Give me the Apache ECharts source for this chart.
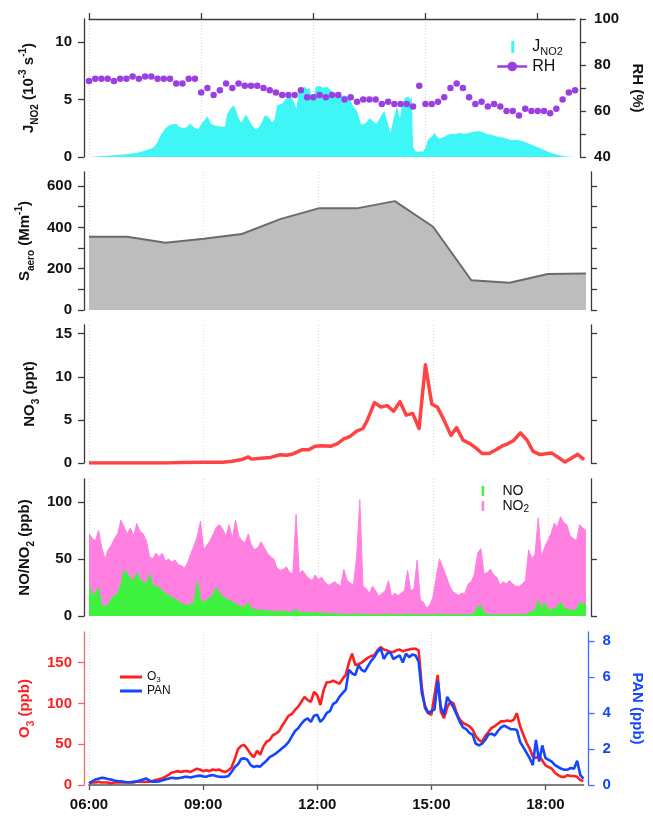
<!DOCTYPE html>
<html><head><meta charset="utf-8">
<script src="https://cdn.jsdelivr.net/npm/echarts@6/dist/echarts.min.js"></script>
<style>html,body{margin:0;padding:0;background:#fff}#c{width:653px;height:816px}</style>
</head><body><div id="c"></div>
<script>
const FONT = '"Liberation Sans", Arial, Helvetica, sans-serif';

// ---------- Panel 1: J_NO2 (irregular time, 10^-3 s^-1) ----------
const jno2Time = ['06:00','06:30','07:00','07:20','07:40','07:45','07:50','07:56','08:03','08:10','08:20','08:25','08:32','08:37','08:42','08:48','08:55',
 '09:00','09:05','09:10','09:16','09:22','09:30','09:38','09:41','09:47','09:52','09:56','10:00','10:04','10:08','10:12','10:16','10:20','10:27','10:33','10:38','10:42','10:48','10:54','10:58',
 '11:02','11:10','11:15','11:23','11:28','11:33','11:37','11:42','11:46','11:50','11:54','11:59','12:04','12:10','12:16','12:22','12:28','12:33','12:38','12:43','12:48','12:54','13:00',
 '13:04','13:10','13:17','13:22','13:27','13:30','13:34','13:41','13:46','13:50','13:54','13:58','14:04','14:09','14:14','14:19','14:23','14:28','14:33','14:36','14:38',
 '14:40','14:44','14:48','14:52','14:56','15:00','15:04','15:08','15:12','15:15','15:18','15:22','15:28','15:34','15:40','15:48','15:55','16:02','16:10','16:18','16:25','16:30','16:38','16:45','16:52',
 '17:00','17:10','17:18','17:25','17:35','17:45','17:55','18:05','18:15','18:25','18:35','18:45','19:00'];
const jno2Val = [0,0.1,0.25,0.4,0.75,0.9,1.3,2.0,2.5,2.8,2.9,2.6,2.5,2.6,2.9,2.6,2.4,
 2.85,3.2,3.55,2.9,2.75,2.65,2.6,3.6,4.2,4.5,4.05,3.4,3.0,3.3,3.7,3.3,2.9,2.4,2.6,3.1,3.6,3.5,3.0,3.3,
 4.5,4.65,5.0,5.3,4.9,4.2,6.05,6.0,6.1,5.9,6.0,4.9,6.1,6.2,6.0,6.1,5.8,5.6,5.5,5.3,5.35,5.3,4.9,
 4.4,4.0,2.8,2.9,3.1,3.4,3.2,2.9,3.3,3.7,4.0,3.2,2.1,3.4,4.4,3.4,4.7,5.2,5.25,5.0,5.3,
 0.9,0.5,0.45,0.5,0.45,0.8,1.5,1.7,1.9,2.1,1.8,1.6,1.7,1.9,2.0,2.0,2.1,2.0,2.1,2.2,2.25,2.2,2.0,1.95,1.8,
 1.75,1.6,1.45,1.5,1.4,1.2,0.95,0.75,0.5,0.3,0.15,0.05,0];

// RH (%) every 10 min from 06:00
const rhStart = '06:00';
const rhVal = [73,74,74,74,73,74,74,75,74,75,75,74,74,74,72,72,74,74,
 68,70,67,69,72,70,72,71,71,71,70,69,68,67,67,67,69,66,66,67,66,
 67,67,65,66,64,65,65,65,63,64,63,63,63,62,71,63,63,64,66,70,72,70,66,63,64,62,63,62,60,60,58,61,60,60,60,59,61,65,68,69];

// ---------- Panel 2: S_aero hourly (Mm^-1) ----------
const saeroTime = ['06:00','07:00','08:00','09:00','10:00','11:00','12:00','13:00','14:00','15:00','16:00','17:00','18:00','19:00'];
const saeroVal = [355,355,325,345,368,440,492,492,527,403,144,132,174,177];

// ---------- Panel 3: NO3 (ppt) ----------
const no3Time = ['06:00','07:00','08:00','08:30','09:00','09:30','09:45','10:00','10:10','10:15','10:30','10:45','11:00','11:10','11:20','11:35','11:45','11:55','12:05','12:20','12:30','12:40','12:50','13:00','13:10','13:17','13:28','13:38','13:48','13:58','14:08','14:18','14:28','14:38','14:48','14:58','15:07','15:17','15:28','15:37','15:47','15:59','16:07','16:17','16:28','16:38','16:48','16:58','17:07','17:17','17:27','17:37','17:48','18:06','18:27','18:47','18:57'];
const no3Val = [0,0,0,0.05,0.1,0.1,0.2,0.4,0.7,0.45,0.55,0.65,0.95,0.9,1.05,1.55,1.55,1.95,2.0,1.95,2.25,2.8,3.1,3.7,4.0,5.0,7.0,6.5,6.65,6.0,7.1,5.55,5.75,4.0,11.4,6.85,6.45,5.0,3.2,4.1,2.65,2.2,1.75,1.1,1.1,1.5,1.95,2.25,2.65,3.5,2.7,1.35,0.98,1.17,0.12,1.0,0.4];

// ---------- Panel 4: NO / NO2 (ppb), every 5 min from 06:00 ----------
const fiveMinStart = '06:00';
const no2Val = [72,68,66,75,60,50,58,62,68,72,84,78,72,77,70,81,74,72,66,52,50,55,52,55,
 48,50,47,49,45,44,42,47,55,62,70,83,58,62,66,72,78,80,76,70,80,68,84,70,
 66,64,72,62,58,60,65,60,55,52,50,42,40,41,43,38,37,89,37,40,36,33,31,36,
 32,34,30,27,28,30,28,26,41,31,29,27,52,102,26,24,20,26,22,17,20,22,31,17,
 20,18,20,22,40,22,24,49,14,12,7,10,17,34,50,43,36,28,22,20,18,20,20,28,
 30,37,55,59,37,38,41,36,34,27,30,28,31,28,26,26,28,31,58,50,54,86,52,60,
 66,72,81,78,87,82,80,70,68,66,80,77,75];
const noVal = [27,18,20,25,9,8,10,15,18,20,27,40,37,33,31,38,32,30,28,37,27,26,25,22,
 20,18,16,15,13,11,10,9,11,12,31,14,12,14,16,19,25,20,17,15,14,12,11,9,
 8,8,12,6,6,5,5,5,5,4,4,4,4,4,4,3,4,6,3,3,3,3,3,2,
 3,3,2,2,2,2,2,1,2,1,1,2,1,2,1,1,1,1,1,1,1,2,1,1,
 1,1,1,1,2,1,1,1,1,1,1,1,1,1,2,1,1,1,1,1,1,1,1,1,
 1,3,8,9,3,1,1,1,1,1,1,1,1,1,1,1,1,1,3,4,5,14,6,12,
 6,5,7,8,12,8,6,5,5,6,12,10,11];

// ---------- Panel 5: O3 (ppb) and PAN (ppb), every 5 min from 06:00 ----------
const o3Val = [2,3,3,4,3,3,3,2,3,3,3,3,3,3,3,4,4,4,4,4,5,6,7,8,
 10,12,15,16,17,16,17,17,16,18,20,19,17,18,17,19,18,19,17,16,18,22,32,44,
 48,49,44,38,34,42,37,47,53,55,61,63,66,73,79,85,87,92,96,102,108,104,102,114,
 110,98,116,126,126,128,126,124,130,135,150,161,147,148,150,153,156,158,159,165,169,166,165,163,
 163,165,166,164,165,166,167,167,165,120,94,88,86,110,135,90,82,95,102,100,88,80,76,74,
 72,68,60,55,53,60,65,70,72,75,78,78,79,78,80,88,72,62,52,45,35,33,36,30,
 24,22,20,15,12,10,10,12,11,11,10,6,5];
const panVal = [0.1,0.2,0.3,0.35,0.4,0.38,0.33,0.3,0.25,0.22,0.2,0.18,0.15,0.15,0.18,0.2,0.25,0.3,0.37,0.25,0.18,0.18,0.2,0.25,
 0.3,0.35,0.4,0.38,0.37,0.4,0.45,0.46,0.42,0.46,0.5,0.52,0.48,0.46,0.52,0.55,0.5,0.46,0.45,0.46,0.5,0.74,1.0,1.15,
 1.45,1.48,1.4,1.1,1.0,1.05,1.02,1.2,1.35,1.55,1.65,1.76,1.9,2.05,2.2,2.4,2.7,3.0,3.15,3.4,3.6,3.7,3.5,3.85,
 3.9,3.5,3.7,4.0,4.1,4.5,4.6,4.9,5.1,5.3,6.4,6.2,6.1,6.65,6.4,6.3,6.6,6.9,7.1,7.4,7.6,7.0,7.3,7.4,
 7.0,7.1,7.2,6.8,7.3,7.1,7.25,7.2,6.85,5.1,4.4,4.0,4.1,4.2,5.8,4.3,3.9,4.9,4.6,4.3,3.9,3.5,3.2,3.1,
 2.9,2.8,2.3,2.2,2.3,2.5,2.8,2.85,2.75,3.0,3.2,3.3,3.2,3.1,3.1,3.05,2.4,2.1,1.8,1.5,1.1,2.5,1.3,2.2,
 1.5,1.4,1.3,1.1,1.0,0.9,0.85,0.85,0.95,0.9,1.35,0.55,0.35];

// ---------- Axis ticks ----------
const timeTicks = [6, 9, 12, 15, 18];
const jTicks = [0, 5, 10];
const rhTicks = [40, 50, 60, 70, 80, 90, 100];
const rhLabels = [40, 60, 80, 100];
const sTicks = [0, 100, 200, 300, 400, 500, 600];
const sLabels = [0, 200, 400, 600];
const no3Ticks = [0, 5, 10, 15];
const noxTicks = [0, 50, 100];
const o3Ticks = [0, 50, 100, 150];
const panTicks = [0, 2, 4, 6, 8];

// ---------- helpers ----------
const toH = s => { const p = s.split(':').map(Number); return p[0] + p[1] / 60; };
const pairs = (times, vals) => times.map((t, i) => [toH(t), vals[i]]);
const regular = (start, stepMin, vals) => vals.map((v, i) => [toH(start) + i * stepMin / 60, v]);

const AX = '#3a3a3a';
const richFor = (color, size) => ({
  n: {fontFamily: FONT, fontWeight: 'bold', fontSize: size, color, lineHeight: 22, verticalAlign: 'middle'},
  sub: {fontFamily: FONT, fontWeight: 'bold', fontSize: Math.round(size * 0.68), color, lineHeight: 13, verticalAlign: 'bottom'},
  sup: {fontFamily: FONT, fontWeight: 'bold', fontSize: Math.round(size * 0.68), color, lineHeight: 13, verticalAlign: 'top'}
});

function xAx(i, extra) {
  return Object.assign({
    type: 'value', gridIndex: i, min: 6, max: 19, interval: 3,
    axisLine: {show: false, onZero: false}, axisTick: {show: false}, axisLabel: {show: false},
    splitLine: {show: true, showMaxLine: false, lineStyle: {color: '#d6d6d6', type: [1, 2], width: 1}}
  }, extra || {});
}
function yAx(i, pos, min, max, ticks, labels, extra) {
  const color = (extra && extra.color) || AX;
  const lblColor = (extra && extra.lblColor) || '#111';
  const o = {
    type: 'value', gridIndex: i, position: pos, offset: 5, min, max,
    axisLine: {show: true, onZero: false, lineStyle: {color, width: 1.3}},
    axisTick: {show: true, length: 6, customValues: ticks, lineStyle: {color, width: 1.3}},
    axisLabel: {show: !!labels, customValues: labels || ticks, margin: pos === 'left' ? 12 : 14,
      fontFamily: FONT, fontWeight: 'bold', fontSize: 15, color: lblColor},
    splitLine: {show: false}
  };
  if (extra && extra.name) {
    o.name = extra.name;
    o.nameLocation = 'middle';
    o.nameGap = extra.nameGap;
    if (extra.nameRotate != null) o.nameRotate = extra.nameRotate;
    o.nameTextStyle = {rich: richFor(extra.nameColor || '#111', 15)};
  }
  return o;
}

const grids = [
  {left: 89, right: 67, top: 19, height: 138},
  {left: 89, right: 67, top: 172, height: 138},
  {left: 89, right: 67, top: 325, height: 138},
  {left: 89, right: 67, top: 479, height: 137},
  {left: 89, right: 67, top: 632, height: 153}
];

const xAxes = [
  xAx(0, {position: 'top', axisLine: {show: true, onZero: false, lineStyle: {color: AX, width: 1.3}},
    axisTick: {show: true, length: 6, customValues: timeTicks, lineStyle: {color: AX, width: 1.3}}}),
  xAx(1), xAx(2), xAx(3),
  xAx(4, {position: 'bottom', axisLine: {show: true, onZero: false, lineStyle: {color: '#555', width: 1.6}},
    axisTick: {show: true, length: 5, customValues: timeTicks, lineStyle: {color: '#555', width: 1.3}},
    axisLabel: {show: true, customValues: timeTicks, margin: 12, fontFamily: FONT, fontWeight: 'bold', fontSize: 15, color: '#111',
      formatter: v => String(Math.round(v)).padStart(2, '0') + ':00'}})
];

const RED = '#ff1f1f', BLUE = '#1446ff';
const yAxes = [
  yAx(0, 'left', 0, 12, jTicks, jTicks, {name: '{n|J}{sub|NO2}{n| (10}{sup|-3}{n| s}{sup|-1}{n|)}', nameGap: 44}),
  yAx(0, 'right', 40, 100, rhTicks, rhLabels, {name: '{n|RH (%)}', nameGap: 42, nameRotate: -90}),
  yAx(1, 'left', 0, 668, sTicks, sLabels, {name: '{n|S}{sub|aero}{n| (Mm}{sup|-1}{n|)}', nameGap: 44}),
  yAx(1, 'right', 0, 668, sTicks, null),
  yAx(2, 'left', 0, 16, no3Ticks, no3Ticks, {name: '{n|NO}{sub|3}{n| (ppt)}', nameGap: 43}),
  yAx(2, 'right', 0, 16, no3Ticks, null),
  yAx(3, 'left', 0, 120, noxTicks, noxTicks, {name: '{n|NO/NO}{sub|2}{n| (ppb)}', nameGap: 43}),
  yAx(3, 'right', 0, 120, noxTicks, null),
  yAx(4, 'left', 0, 187.5, o3Ticks, o3Ticks, {name: '{n|O}{sub|3}{n| (ppb)}', nameGap: 40, color: '#f06a6a', lblColor: RED, nameColor: RED}),
  yAx(4, 'right', 0, 8.5, panTicks, panTicks, {name: '{n|PAN (ppb)}', nameGap: 38, nameRotate: -90, color: '#3f6cff', lblColor: BLUE, nameColor: BLUE})
];

const CYAN = '#3ef6f6', PURPLE = '#9b3fe3', PINK = '#ff80e0', GREEN = '#3ff23f';
const series = [
  {name: 'JNO2', type: 'line', xAxisIndex: 0, yAxisIndex: 0, data: pairs(jno2Time, jno2Val), symbol: 'none',
    lineStyle: {width: 0}, areaStyle: {color: CYAN, opacity: 1}, itemStyle: {color: CYAN}, z: 2},
  {name: 'RH', type: 'line', xAxisIndex: 0, yAxisIndex: 1, data: regular(rhStart, 10, rhVal), symbol: 'circle', symbolSize: 6.5,
    showAllSymbol: true, lineStyle: {width: 0, color: PURPLE}, itemStyle: {color: PURPLE}, z: 3},
  {name: 'Saero', type: 'line', xAxisIndex: 1, yAxisIndex: 2, data: pairs(saeroTime, saeroVal), symbol: 'none',
    lineStyle: {width: 2, color: '#6b6b6b'}, areaStyle: {color: '#bdbdbd', opacity: 1}},
  {name: 'NO3', type: 'line', xAxisIndex: 2, yAxisIndex: 4, data: pairs(no3Time, no3Val), symbol: 'none',
    lineStyle: {width: 3.5, color: '#ff4343', join: 'round'}},
  {name: 'NO2', type: 'line', xAxisIndex: 3, yAxisIndex: 6, data: regular(fiveMinStart, 5, no2Val), symbol: 'none',
    lineStyle: {width: 1, color: PINK}, areaStyle: {color: PINK, opacity: 1}, itemStyle: {color: PINK}, z: 2},
  {name: 'NO', type: 'line', xAxisIndex: 3, yAxisIndex: 6, data: regular(fiveMinStart, 5, noVal), symbol: 'none',
    lineStyle: {width: 1, color: GREEN}, areaStyle: {color: GREEN, opacity: 1}, itemStyle: {color: GREEN}, z: 3},
  {name: 'O3', type: 'line', xAxisIndex: 4, yAxisIndex: 8, data: regular(fiveMinStart, 5, o3Val), symbol: 'none',
    lineStyle: {width: 2.6, color: RED}, itemStyle: {color: RED}, z: 2},
  {name: 'PAN', type: 'line', xAxisIndex: 4, yAxisIndex: 9, data: regular(fiveMinStart, 5, panVal), symbol: 'none',
    lineStyle: {width: 2.6, color: BLUE}, itemStyle: {color: BLUE}, z: 3}
];

const BAR_ICON = 'path://M0,0M14,0L17,0L17,12L14,12ZM30,12';
const legRich = (size, lh) => ({
  n: {fontFamily: FONT, fontSize: size, color: '#111', lineHeight: lh, verticalAlign: 'middle'},
  s: {fontFamily: FONT, fontSize: Math.round(size * 0.7), color: '#111', lineHeight: Math.round(lh * 0.6), verticalAlign: 'bottom'}
});
const legends = [
  {orient: 'vertical', left: 491, top: 34, itemWidth: 30, itemHeight: 12, itemGap: 1, selectedMode: false,
    data: [{name: 'JNO2', icon: BAR_ICON}, {name: 'RH', lineStyle: {width: 2.5, color: PURPLE, opacity: 1}}],
    formatter: n => n === 'JNO2' ? '{n|J}{s|NO2}' : '{n|RH}', textStyle: {rich: legRich(16, 21)}},
  {orient: 'vertical', left: 465, top: 479, itemWidth: 30, itemHeight: 10, itemGap: 1, selectedMode: false,
    data: [{name: 'NO', icon: BAR_ICON}, {name: 'NO2', icon: BAR_ICON}],
    formatter: n => n === 'NO' ? '{n|NO}' : '{n|NO}{s|2}', textStyle: {rich: legRich(14, 16)}},
  {orient: 'vertical', left: 115, top: 666, itemWidth: 22, itemHeight: 3, itemGap: 1, selectedMode: false,
    data: [{name: 'O3', icon: 'rect'}, {name: 'PAN', icon: 'rect'}],
    formatter: n => n === 'O3' ? '{n|O}{s|3}' : '{n|PAN}', textStyle: {rich: legRich(12, 14)}}
];

const chart = echarts.init(document.getElementById('c'), null, {renderer: 'canvas'});
chart.setOption({
  backgroundColor: '#fff',
  animation: false,
  grid: grids,
  xAxis: xAxes,
  yAxis: yAxes,
  legend: legends,
  series
});
</script>
</body></html>
